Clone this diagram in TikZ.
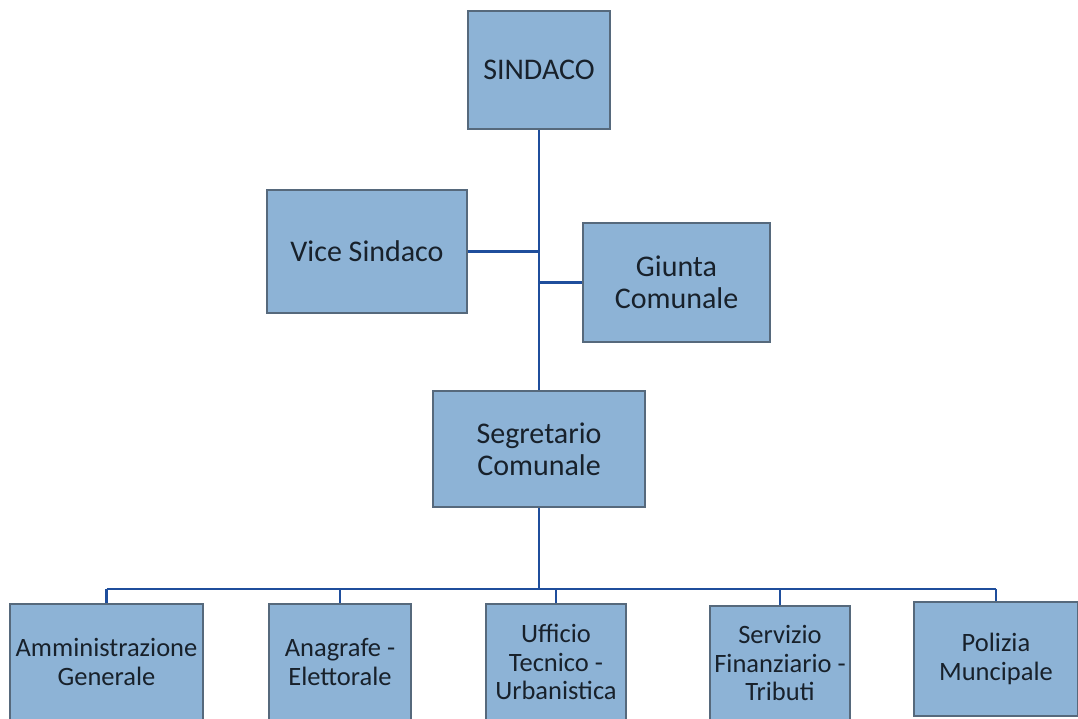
\documentclass[tikz,border=0pt]{standalone}
\usepackage{fontspec}
\setmainfont{Carlito}
\definecolor{boxfill}{HTML}{8DB3D6}
\definecolor{boxline}{HTML}{56697C}
\definecolor{conn}{HTML}{1F4E9C}
\definecolor{txt}{HTML}{18212B}
\begin{document}
\begin{tikzpicture}[x=1pt,y=-1pt,
  orgbox/.style={draw=boxline, fill=boxfill, line width=1.2pt, align=center, inner sep=0pt,
     text=txt, font=\fontsize{30}{32}\selectfont},
  lowbox/.style={orgbox, font=\fontsize{26.5}{28.5}\selectfont},
  link/.style={draw=conn, line width=2.5pt}]
\useasboundingbox (0,0) rectangle (1078,719);
\node[orgbox, minimum width=142pt, minimum height=118pt] (sin) at (539,70) {SINDACO};
\node[orgbox, minimum width=200pt, minimum height=123pt] (vice) at (367,251.5) {Vice Sindaco};
\node[orgbox, minimum width=187pt, minimum height=119pt] (giu) at (676.5,282.5) {Giunta\\Comunale};
\node[orgbox, minimum width=212pt, minimum height=116pt] (seg) at (539,449) {Segretario\\Comunale};
\node[lowbox, minimum width=193pt, minimum height=116pt] (amm) at (106.5,662) {Amministrazione\\Generale};
\node[lowbox, minimum width=142pt, minimum height=116pt] (ana) at (340,662) {Anagrafe -\\Elettorale};
\node[lowbox, minimum width=140pt, minimum height=116pt] (uff) at (556,662) {Ufficio\\Tecnico -\\Urbanistica};
\node[lowbox, minimum width=140pt, minimum height=114pt] (ser) at (780,663) {Servizio\\Finanziario -\\Tributi};
\node[lowbox, minimum width=164pt, minimum height=114pt] (pol) at (996,659) {Polizia\\Muncipale};
\coordinate (bus) at (539,589);
\coordinate (vj) at (539,251.5);
\coordinate (gj) at (539,282.5);
\draw[link] (sin.south) -- (seg.north);
\draw[link] (vice.east) -- (vj);
\draw[link] (gj) -- (giu.west);
\draw[link] (seg.south) -- (bus);
\draw[link] (amm.north |- bus) -- (pol.north |- bus);
\foreach \n in {amm,ana,uff,ser,pol} \draw[link] (\n.north |- bus) -- (\n.north);
\end{tikzpicture}
\end{document}
